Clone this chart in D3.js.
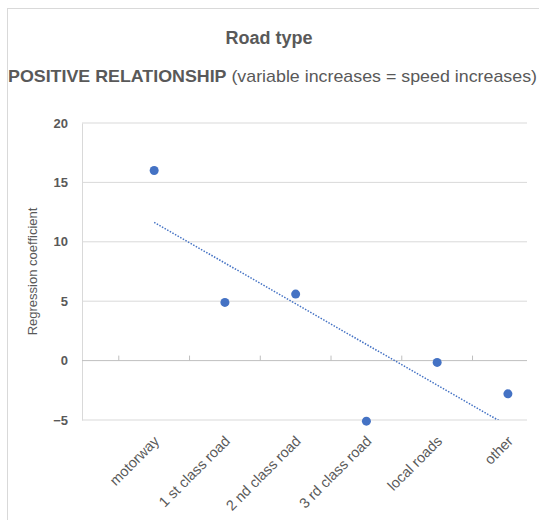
<!DOCTYPE html>
<html>
<head>
<meta charset="utf-8">
<script src="https://cdn.jsdelivr.net/npm/d3@7"></script>
<style>
  body { margin: 0; background: #fff; }
  text { font-family: "Liberation Sans", Arial, sans-serif; fill: #595959; }
</style>
</head>
<body>
<div id="chart"></div>
<script>
// data
var categories = ["motorway", "1 st class road", "2 nd class road", "3 rd class road", "local roads", "other"];
var coefficients = [16.0, 4.9, 5.6, -5.1, -0.15, -2.8];
var yTicks = [-5, 0, 5, 10, 15, 20];

var W = 539, H = 520;
var margin = {top: 123, right: 12, bottom: 100, left: 82};
var width = W - margin.left - margin.right,
    height = 420 - margin.top;

var svg = d3.select("#chart").append("svg")
  .attr("width", W)
  .attr("height", H);

// outer chart frame
svg.append("rect")
  .attr("x", 7.5).attr("y", 8.5)
  .attr("width", W + 10).attr("height", H + 10)
  .attr("fill", "#fff")
  .attr("stroke", "#d9d9d9");

// titles
svg.append("text")
  .attr("x", 269).attr("y", 44)
  .attr("text-anchor", "middle")
  .style("font-size", "18px")
  .style("font-weight", "bold")
  .text("Road type");

var sub = svg.append("text")
  .attr("x", 8).attr("y", 82)
  .attr("textLength", 529)
  .attr("lengthAdjust", "spacingAndGlyphs")
  .style("font-size", "17px");
sub.append("tspan").style("font-weight", "bold").text("POSITIVE RELATIONSHIP");
sub.append("tspan").text(" (variable increases = speed increases)");

var g = svg.append("g")
  .attr("transform", "translate(" + margin.left + "," + margin.top + ")");

// category index -> x position (Excel leaves one slot empty on the left)
var x = d3.scaleLinear()
  .domain([-1.02, 5.27])
  .range([0, width]);
var y = d3.scaleLinear()
  .domain([-5, 20])
  .range([height, 0]);

// gridlines
g.selectAll(".grid")
  .data(yTicks.filter(function(d) { return d != 0; }))
  .enter().append("line")
  .attr("x1", 0).attr("x2", width)
  .attr("y1", function(d) { return y(d); })
  .attr("y2", function(d) { return y(d); })
  .attr("stroke", "#d9d9d9");

// y axis
var yAxis = g.append("g")
  .call(d3.axisLeft(y).tickValues(yTicks).tickSize(0).tickPadding(14));
yAxis.select(".domain").attr("stroke", "#d9d9d9");
yAxis.selectAll("text")
  .style("font-size", "13px")
  .style("font-weight", "bold")
  .attr("fill", "#595959");

// zero line with tick marks between categories
g.append("line")
  .attr("x1", 0).attr("x2", width)
  .attr("y1", y(0)).attr("y2", y(0))
  .attr("stroke", "#bfbfbf");
g.selectAll(".xtick")
  .data(categories)
  .enter().append("line")
  .attr("x1", function(d, i) { return x(i - 0.5); })
  .attr("x2", function(d, i) { return x(i - 0.5); })
  .attr("y1", y(0)).attr("y2", y(0) - 5)
  .attr("stroke", "#bfbfbf");

// category labels below the plot
g.selectAll(".xlabel")
  .data(categories)
  .enter().append("text")
  .attr("text-anchor", "end")
  .attr("transform", function(d, i) {
    return "translate(" + (x(i) + 6) + "," + (height + 22) + ") rotate(-45)";
  })
  .style("font-size", "14.5px")
  .text(function(d) { return d; });

// y axis title
g.append("text")
  .attr("transform", "translate(-45," + (y(7.5)) + ") rotate(-90)")
  .attr("text-anchor", "middle")
  .style("font-size", "13px")
  .text("Regression coefficient");

// linear trendline
var xs = coefficients.map(function(d, i) { return i; });
var mx = d3.mean(xs), my = d3.mean(coefficients);
var slope = d3.sum(xs, function(xi, i) { return (xi - mx) * (coefficients[i] - my); }) /
            d3.sum(xs, function(xi) { return (xi - mx) * (xi - mx); });
var intercept = my - slope * mx;

g.append("clipPath").attr("id", "plotclip")
  .append("rect").attr("width", width).attr("height", height);

g.append("line")
  .attr("clip-path", "url(#plotclip)")
  .attr("x1", x(0)).attr("y1", y(intercept))
  .attr("x2", x(5)).attr("y2", y(intercept + slope * 5))
  .attr("stroke", "#4472c4")
  .attr("stroke-width", 1.5)
  .attr("stroke-dasharray", "1.5,1.5");

// points
g.selectAll(".dot")
  .data(coefficients)
  .enter().append("circle")
  .attr("cx", function(d, i) { return x(i); })
  .attr("cy", function(d) { return y(d); })
  .attr("r", 4.5)
  .attr("fill", "#4472c4");
</script>
</body>
</html>
